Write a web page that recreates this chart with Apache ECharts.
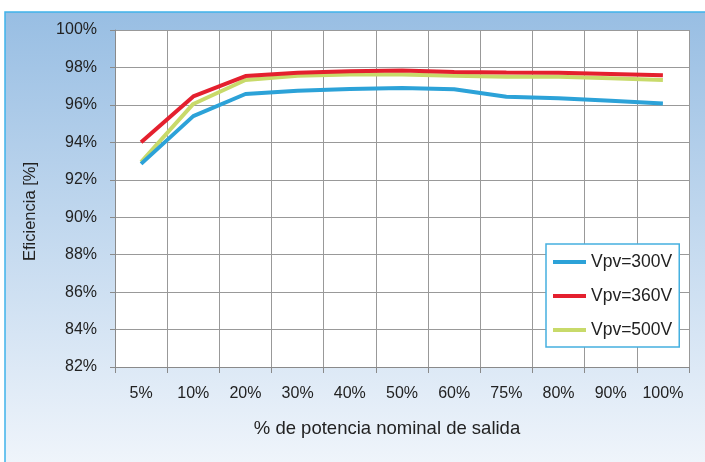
<!DOCTYPE html>
<html>
<head>
<meta charset="utf-8">
<script src="https://cdn.jsdelivr.net/npm/echarts@6/dist/echarts.min.js"></script>
<style>
  html, body { margin: 0; padding: 0; background: #fff; }
  #chart { width: 705px; height: 462px; }
</style>
</head>
<body>
<div id="chart"></div>
<script>
// potencia nominal de salida (categorias)
const cargas = ['5%', '10%', '20%', '30%', '40%', '50%', '60%', '75%', '80%', '90%', '100%'];
// eficiencia [%] por tension de entrada
const vpv300 = [92.85, 95.4, 96.58, 96.76, 96.85, 96.9, 96.84, 96.44, 96.36, 96.22, 96.08];
const vpv360 = [94.0, 96.45, 97.54, 97.72, 97.8, 97.84, 97.76, 97.73, 97.71, 97.65, 97.58];
const vpv500 = [92.95, 96.05, 97.33, 97.55, 97.62, 97.62, 97.55, 97.5, 97.5, 97.42, 97.33];
const nombres = ['Vpv=300V', 'Vpv=360V', 'Vpv=500V'];

const chart = echarts.init(document.getElementById('chart'));
const font = 'Liberation Sans, Arial, sans-serif';

const option = {
    backgroundColor: '#fff',
    animation: false,
    graphic: [{
        type: 'rect',
        z: -10,
        shape: { x: 5, y: 12, width: 705, height: 455 },
        style: {
            fill: new echarts.graphic.LinearGradient(0, 0, 0, 1, [
                { offset: 0, color: '#98bee3' },
                { offset: 1, color: '#f0f5fb' }
            ]),
            stroke: '#3fb2ea',
            lineWidth: 1.5
        }
    }],
    grid: { left: 115, right: 16, top: 30, bottom: 95, show: true, backgroundColor: '#fff', borderWidth: 0 },
    legend: {
        data: nombres,
        orient: 'vertical',
        left: 546,
        top: 244,
        padding: [9, 7, 8, 7],
        itemGap: 16,
        itemWidth: 33,
        itemHeight: 4,
        icon: 'rect',
        backgroundColor: '#fff',
        borderColor: '#45b0e0',
        borderWidth: 1.5,
        borderRadius: 0,
        textStyle: { fontFamily: font, fontSize: 17.5, color: '#222', lineHeight: 17 }
    },
    xAxis: {
        type: 'category',
        data: cargas,
        boundaryGap: true,
        name: '% de potencia nominal de salida',
        nameLocation: 'middle',
        nameGap: 52,
        nameTextStyle: { fontFamily: font, fontSize: 18.5, color: '#222', padding: [0, 30, 0, 0] },
        axisLine: { lineStyle: { color: '#8a8a8a', width: 1 } },
        axisTick: { show: true, interval: 0, length: 6, lineStyle: { color: '#8a8a8a' } },
        axisLabel: { interval: 0, fontFamily: font, fontSize: 16, color: '#222', margin: 19 },
        splitLine: { show: true, interval: 0, lineStyle: { color: '#999', width: 1 } }
    },
    yAxis: {
        type: 'value',
        min: 82,
        max: 100,
        interval: 2,
        name: 'Eficiencia [%]',
        nameLocation: 'middle',
        nameGap: 76,
        nameRotate: 90,
        nameTextStyle: { fontFamily: font, fontSize: 16.5, color: '#222', padding: [0, 26, 0, 0] },
        axisLine: { show: true, lineStyle: { color: '#8a8a8a', width: 1 } },
        axisTick: { show: true, length: 5, lineStyle: { color: '#8a8a8a' } },
        axisLabel: { fontFamily: font, fontSize: 16, color: '#222', margin: 18, formatter: '{value}%' },
        splitLine: { show: true, lineStyle: { color: '#999', width: 1 } }
    },
    series: [
        { name: 'Vpv=500V', type: 'line', data: vpv500, showSymbol: false, color: '#c8da6a', lineStyle: { width: 4 } },
        { name: 'Vpv=360V', type: 'line', data: vpv360, showSymbol: false, color: '#e4202e', lineStyle: { width: 4 } },
        { name: 'Vpv=300V', type: 'line', data: vpv300, showSymbol: false, color: '#2ca2d8', lineStyle: { width: 4 } }
    ]
};
chart.setOption(option);
</script>
</body>
</html>
